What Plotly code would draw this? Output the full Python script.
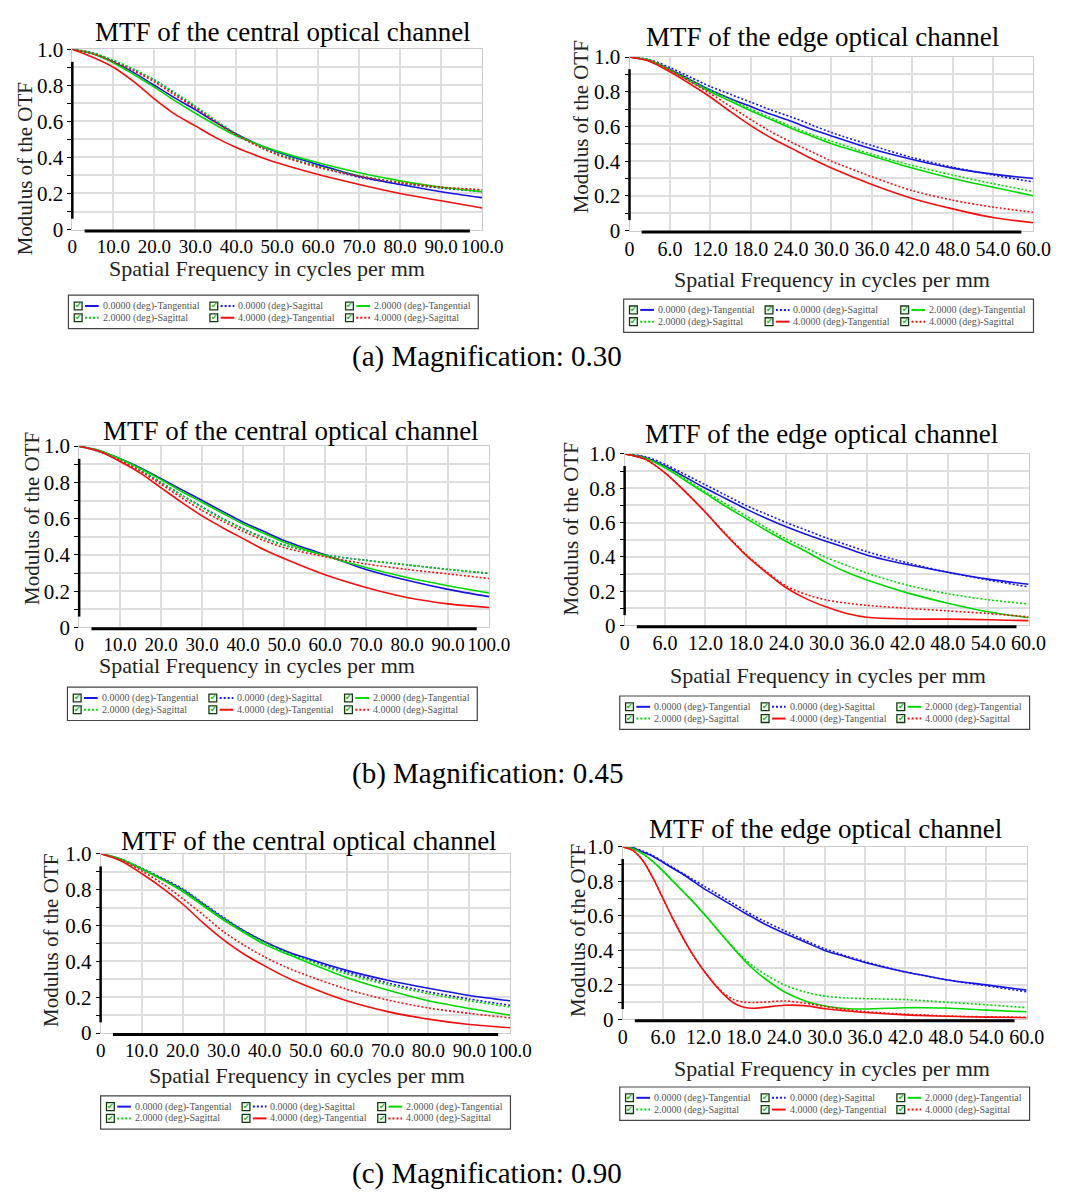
import plotly.graph_objects as go

W, H = 1074, 1198

# ---------------- data ----------------
series_names = ["0.0000 (deg)-Tangential", "0.0000 (deg)-Sagittal", "2.0000 (deg)-Tangential",
                "2.0000 (deg)-Sagittal", "4.0000 (deg)-Tangential", "4.0000 (deg)-Sagittal"]

central_ticks = [0, 10, 20, 30, 40, 50, 60, 70, 80, 90, 100]
central_ticktext = ["0", "10.0", "20.0", "30.0", "40.0", "50.0", "60.0", "70.0", "80.0", "90.0", "100.0"]
edge_ticks = [0, 6, 12, 18, 24, 30, 36, 42, 48, 54, 60]
edge_ticktext = ["0", "6.0", "12.0", "18.0", "24.0", "30.0", "36.0", "42.0", "48.0", "54.0", "60.0"]
y_ticks = [0, 0.1, 0.2, 0.3, 0.4, 0.5, 0.6, 0.7, 0.8, 0.9, 1.0]
y_ticktext = ["0", "", "0.2", "", "0.4", "", "0.6", "", "0.8", "", "1.0"]

titles = ["MTF of the central optical channel", "MTF of the edge optical channel"]
captions = ["(a) Magnification: 0.30", "(b) Magnification: 0.45", "(c) Magnification: 0.90"]

# central channel frequencies
freq_c = [0, 5, 10, 15, 20, 25, 30, 35, 40, 45, 50, 60, 70, 80, 90, 100]
# edge channel frequencies
freq_e = [0, 3, 6, 9, 12, 15, 18, 21, 24, 27, 30, 36, 42, 48, 54, 60]
freq_e_b = [0, 3, 6, 9, 12, 15, 18, 21, 24, 27, 30, 33, 36, 42, 48, 54, 60]
freq_e_c = [0, 1.5, 3, 4.5, 6, 7.5, 9, 10.5, 12, 13.5, 15, 16.5, 18, 19.5, 21, 24, 27, 30, 33, 36, 42, 45, 48, 54, 60]

# (a) magnification 0.30 - central
a_c_T0 = [1.0, 0.975, 0.93, 0.87, 0.80, 0.73, 0.665, 0.595, 0.53, 0.475, 0.43, 0.36, 0.295, 0.25, 0.21, 0.177]
a_c_S0 = [1.0, 0.98, 0.935, 0.885, 0.83, 0.755, 0.68, 0.60, 0.53, 0.47, 0.42, 0.35, 0.29, 0.255, 0.23, 0.21]
a_c_T2 = [1.0, 0.975, 0.925, 0.86, 0.79, 0.715, 0.645, 0.58, 0.52, 0.475, 0.435, 0.37, 0.315, 0.27, 0.235, 0.21]
a_c_S2 = [1.0, 0.98, 0.94, 0.89, 0.83, 0.76, 0.685, 0.605, 0.53, 0.47, 0.42, 0.35, 0.30, 0.26, 0.235, 0.22]
a_c_T4 = [1.0, 0.955, 0.90, 0.82, 0.725, 0.64, 0.575, 0.51, 0.455, 0.41, 0.37, 0.305, 0.25, 0.20, 0.16, 0.12]
a_c_S4 = [1.0, 0.975, 0.93, 0.88, 0.82, 0.745, 0.675, 0.595, 0.525, 0.465, 0.415, 0.345, 0.295, 0.26, 0.235, 0.22]

# (a) magnification 0.30 - edge
a_e_T0 = [1.0, 0.98, 0.93, 0.87, 0.81, 0.76, 0.715, 0.67, 0.63, 0.585, 0.545, 0.47, 0.41, 0.36, 0.325, 0.30]
a_e_S0 = [1.0, 0.985, 0.94, 0.885, 0.83, 0.785, 0.74, 0.695, 0.655, 0.61, 0.565, 0.49, 0.42, 0.365, 0.32, 0.28]
a_e_T2 = [1.0, 0.98, 0.925, 0.86, 0.80, 0.745, 0.69, 0.64, 0.59, 0.545, 0.50, 0.43, 0.36, 0.30, 0.25, 0.20]
a_e_S2 = [1.0, 0.985, 0.93, 0.87, 0.81, 0.755, 0.70, 0.65, 0.60, 0.555, 0.515, 0.44, 0.375, 0.32, 0.27, 0.225]
a_e_T4 = [1.0, 0.975, 0.915, 0.845, 0.77, 0.685, 0.605, 0.535, 0.475, 0.415, 0.36, 0.265, 0.185, 0.125, 0.075, 0.045]
a_e_S4 = [1.0, 0.98, 0.925, 0.86, 0.79, 0.715, 0.64, 0.57, 0.51, 0.455, 0.40, 0.31, 0.23, 0.175, 0.135, 0.105]

# (b) magnification 0.45 - central
b_c_T0 = [1.0, 0.975, 0.93, 0.88, 0.82, 0.76, 0.70, 0.64, 0.58, 0.53, 0.48, 0.40, 0.32, 0.26, 0.21, 0.17]
b_c_S0 = [1.0, 0.97, 0.925, 0.865, 0.80, 0.73, 0.665, 0.60, 0.545, 0.495, 0.455, 0.40, 0.37, 0.345, 0.32, 0.298]
b_c_T2 = [1.0, 0.975, 0.93, 0.875, 0.815, 0.75, 0.69, 0.63, 0.57, 0.52, 0.47, 0.395, 0.33, 0.275, 0.23, 0.19]
b_c_S2 = [1.0, 0.97, 0.925, 0.865, 0.80, 0.73, 0.662, 0.598, 0.542, 0.493, 0.453, 0.40, 0.37, 0.345, 0.32, 0.30]
b_c_T4 = [1.0, 0.97, 0.915, 0.85, 0.77, 0.69, 0.615, 0.55, 0.49, 0.43, 0.38, 0.29, 0.22, 0.165, 0.13, 0.11]
b_c_S4 = [1.0, 0.97, 0.92, 0.86, 0.79, 0.715, 0.645, 0.585, 0.53, 0.48, 0.44, 0.39, 0.35, 0.32, 0.295, 0.27]

# (b) magnification 0.45 - edge
b_e_T0 = [1.0, 0.98, 0.93, 0.865, 0.80, 0.74, 0.68, 0.625, 0.575, 0.53, 0.49, 0.45, 0.41, 0.355, 0.31, 0.27, 0.24]
b_e_S0 = [1.0, 0.985, 0.94, 0.88, 0.82, 0.76, 0.70, 0.65, 0.60, 0.555, 0.51, 0.47, 0.43, 0.365, 0.31, 0.265, 0.225]
b_e_T2 = [1.0, 0.975, 0.92, 0.845, 0.77, 0.695, 0.625, 0.555, 0.49, 0.43, 0.365, 0.31, 0.265, 0.19, 0.13, 0.08, 0.045]
b_e_S2 = [1.0, 0.978, 0.925, 0.855, 0.78, 0.71, 0.64, 0.57, 0.505, 0.45, 0.395, 0.35, 0.305, 0.235, 0.185, 0.15, 0.125]
b_e_T4 = [1.0, 0.97, 0.89, 0.78, 0.66, 0.53, 0.41, 0.31, 0.22, 0.155, 0.107, 0.07, 0.048, 0.038, 0.037, 0.033, 0.028]
b_e_S4 = [1.0, 0.97, 0.89, 0.78, 0.66, 0.535, 0.415, 0.315, 0.23, 0.18, 0.148, 0.13, 0.117, 0.10, 0.085, 0.07, 0.05]

# (c) magnification 0.90 - central
c_c_T0 = [1.0, 0.97, 0.915, 0.86, 0.80, 0.72, 0.64, 0.57, 0.51, 0.46, 0.42, 0.35, 0.295, 0.25, 0.21, 0.18]
c_c_S0 = [1.0, 0.97, 0.92, 0.865, 0.805, 0.725, 0.645, 0.57, 0.51, 0.455, 0.415, 0.34, 0.28, 0.23, 0.19, 0.155]
c_c_T2 = [1.0, 0.97, 0.915, 0.855, 0.79, 0.71, 0.63, 0.56, 0.495, 0.445, 0.40, 0.31, 0.24, 0.18, 0.137, 0.10]
c_c_S2 = [1.0, 0.97, 0.92, 0.86, 0.80, 0.72, 0.64, 0.565, 0.505, 0.45, 0.41, 0.33, 0.27, 0.22, 0.18, 0.145]
c_c_T4 = [1.0, 0.96, 0.89, 0.81, 0.72, 0.615, 0.52, 0.44, 0.375, 0.315, 0.265, 0.18, 0.12, 0.078, 0.048, 0.03]
c_c_S4 = [1.0, 0.965, 0.905, 0.835, 0.75, 0.66, 0.565, 0.49, 0.425, 0.37, 0.325, 0.245, 0.185, 0.14, 0.11, 0.085]

# (c) magnification 0.90 - edge
c_e_T0 = [1.0, 0.995, 0.97, 0.945, 0.91, 0.875, 0.84, 0.80, 0.76, 0.725, 0.69, 0.655, 0.62, 0.587, 0.555,
          0.50, 0.45, 0.40, 0.365, 0.33, 0.275, 0.253, 0.23, 0.20, 0.17]
c_e_S0 = [1.0, 0.995, 0.975, 0.95, 0.915, 0.88, 0.845, 0.81, 0.775, 0.74, 0.705, 0.67, 0.635, 0.60, 0.57,
          0.515, 0.46, 0.41, 0.37, 0.335, 0.275, 0.252, 0.23, 0.195, 0.16]
c_e_T2 = [1.0, 0.99, 0.96, 0.915, 0.86, 0.80, 0.74, 0.68, 0.615, 0.547, 0.478, 0.41, 0.345, 0.288, 0.24,
          0.16, 0.108, 0.078, 0.063, 0.06, 0.068, 0.068, 0.066, 0.054, 0.044]
c_e_S2 = [1.0, 0.99, 0.96, 0.915, 0.86, 0.80, 0.74, 0.68, 0.615, 0.547, 0.48, 0.415, 0.355, 0.305, 0.265,
          0.20, 0.16, 0.135, 0.125, 0.12, 0.115, 0.108, 0.10, 0.085, 0.068]
c_e_T4 = [1.0, 0.98, 0.92, 0.82, 0.70, 0.58, 0.47, 0.37, 0.285, 0.21, 0.145, 0.095, 0.07, 0.065, 0.07,
          0.082, 0.08, 0.062, 0.05, 0.04, 0.026, 0.022, 0.018, 0.013, 0.01]
c_e_S4 = [1.0, 0.98, 0.92, 0.82, 0.70, 0.58, 0.47, 0.37, 0.285, 0.212, 0.152, 0.115, 0.10, 0.098, 0.10,
          0.107, 0.095, 0.075, 0.058, 0.045, 0.03, 0.025, 0.02, 0.015, 0.012]

# ---------------- styling ----------------
FONT = "Liberation Serif, Times New Roman, serif"
colors = ["#1616e0", "#1616e0", "#00d800", "#00d800", "#f01010", "#f01010"]
dashes = ["solid", "2px,2px", "solid", "2px,2px", "solid", "2px,2px"]
GRID = "#dedede"

# panel geometry in pixels: plot area (left, right, top, bottom)
panels = [
    dict(freq=freq_c, ys=[a_c_T0, a_c_S0, a_c_T2, a_c_S2, a_c_T4, a_c_S4], xmax=100, kind=0,
         box=(69, 489, 38, 222), title=(285, 20), xt=(268, 262), yt=(20, 160), leg=(65, 289)),
    dict(freq=freq_e, ys=[a_e_T0, a_e_S0, a_e_T2, a_e_S2, a_e_T4, a_e_S4], xmax=60, kind=1,
         box=(640, 1054, 46, 223), title=(838, 26), xt=(848, 273), yt=(590, 117), leg=(634, 293)),
    dict(freq=freq_c, ys=[b_c_T0, b_c_S0, b_c_T2, b_c_S2, b_c_T4, b_c_S4], xmax=100, kind=0,
         box=(76, 496, 443, 628), title=(293, 428), xt=(258, 667), yt=(27, 517), leg=(64, 689)),
    dict(freq=freq_e_b, ys=[b_e_T0, b_e_S0, b_e_T2, b_e_S2, b_e_T4, b_e_S4], xmax=60, kind=1,
         box=(635, 1049, 451, 626), title=(837, 431), xt=(843, 677), yt=(580, 527), leg=(630, 698)),
    dict(freq=freq_c, ys=[c_c_T0, c_c_S0, c_c_T2, c_c_S2, c_c_T4, c_c_S4], xmax=100, kind=0,
         box=(98, 518, 859, 1042), title=(312, 846), xt=(310, 1085), yt=(47, 947), leg=(98, 1106)),
    dict(freq=freq_e_c, ys=[c_e_T0, c_e_S0, c_e_T2, c_e_S2, c_e_T4, c_e_S4], xmax=60, kind=1,
         box=(633, 1047, 852, 1028), title=(841, 834), xt=(848, 1078), yt=(587, 937), leg=(630, 1097)),
]
caption_pos = [(494, 352), (494, 777), (494, 1185)]


def fx(px):
    return px / W


def fy(py):
    return 1 - py / H


fig = go.Figure()
layout = dict(width=W, height=H, margin=dict(l=0, r=0, t=0, b=0),
              paper_bgcolor="white", plot_bgcolor="white", showlegend=False,
              font=dict(family=FONT, color="black"))
shapes = []
annotations = []

for i, p in enumerate(panels):
    n = i + 1
    xa = "x" if n == 1 else f"x{n}"
    ya = "y" if n == 1 else f"y{n}"
    l, r, t, b = p["box"]
    for k in range(6):
        fig.add_trace(go.Scatter(x=p["freq"], y=p["ys"][k], mode="lines", name=series_names[k],
                                 line=dict(color=colors[k], width=1.6, dash=dashes[k], shape="spline",
                                           smoothing=0.8),
                                 xaxis=xa, yaxis=ya, hoverinfo="skip"))
    tv = central_ticks if p["kind"] == 0 else edge_ticks
    tt = central_ticktext if p["kind"] == 0 else edge_ticktext
    xfs = 19 if p["kind"] == 0 else 20
    layout["xaxis" if n == 1 else f"xaxis{n}"] = dict(
        domain=[fx(l), fx(r)], anchor=ya, range=[0, p["xmax"]], tickmode="array",
        tickvals=tv, ticktext=tt, tickangle=0, showgrid=True, gridcolor=GRID, gridwidth=1.5,
        showline=True, linecolor="#cccccc", linewidth=1, mirror=True, zeroline=False,
        ticks="", tickfont=dict(family=FONT, size=xfs, color="black"), fixedrange=True)
    layout["yaxis" if n == 1 else f"yaxis{n}"] = dict(
        domain=[fy(b), fy(t)], anchor=xa, range=[0, 1], tickmode="array",
        tickvals=y_ticks, ticktext=y_ticktext, showgrid=True, gridcolor=GRID, gridwidth=1.5,
        showline=True, linecolor="#cccccc", linewidth=1, mirror=True, zeroline=False,
        ticks="outside", ticklen=4, tickcolor="black", tickwidth=1,
        tickfont=dict(family=FONT, size=21, color="black"), fixedrange=True)

    # partial black axis strokes (Zemax style)
    shapes.append(dict(type="line", xref=f"{xa} domain", yref=f"{ya} domain", x0=0, x1=0,
                       y0=0.06, y1=0.93, line=dict(color="black", width=2.5)))
    shapes.append(dict(type="line", xref=f"{xa} domain", yref=f"{ya} domain", x0=0.03, x1=0.97,
                       y0=-0.008, y1=-0.008, line=dict(color="black", width=3)))

    # titles
    tx, ty = p["title"]
    annotations.append(dict(text=titles[p["kind"]], x=fx(tx), y=fy(ty), xref="paper", yref="paper",
                            showarrow=False, xanchor="center", yanchor="middle",
                            font=dict(family=FONT, size=27, color="black")))
    ax_, ay_ = p["xt"]
    annotations.append(dict(text="Spatial Frequency in cycles per mm", x=fx(ax_), y=fy(ay_),
                            xref="paper", yref="paper", showarrow=False, xanchor="center",
                            yanchor="middle", font=dict(family=FONT, size=22, color="#222222")))
    yx, yy = p["yt"]
    annotations.append(dict(text="Modulus of the OTF", x=fx(yx), y=fy(yy), xref="paper", yref="paper",
                            showarrow=False, xanchor="center", yanchor="middle", textangle=-90,
                            font=dict(family=FONT, size=21, color="#222222")))

    # legend box
    lx, ly = p["leg"]
    lw, lh = 420, 34
    shapes.append(dict(type="rect", xref="paper", yref="paper", x0=fx(lx), x1=fx(lx + lw),
                       y0=fy(ly + lh), y1=fy(ly), line=dict(color="#444444", width=1.2),
                       fillcolor="white"))
    for k in range(6):
        col, row = k % 3, k // 3
        ex = lx + 6 + col * 139
        ey = ly + 11 + row * 12
        shapes.append(dict(type="rect", xref="paper", yref="paper", x0=fx(ex), x1=fx(ex + 8),
                           y0=fy(ey + 4), y1=fy(ey - 4), line=dict(color="#173817", width=1.3),
                           fillcolor="#f4fff4"))
        annotations.append(dict(text="✔", x=fx(ex + 4.5), y=fy(ey), xref="paper", yref="paper",
                                showarrow=False, xanchor="center", yanchor="middle",
                                font=dict(family="DejaVu Sans", size=8, color="#1fb01f")))
        shapes.append(dict(type="line", xref="paper", yref="paper", x0=fx(ex + 11), x1=fx(ex + 25),
                           y0=fy(ey), y1=fy(ey), line=dict(color=colors[k], width=2, dash=dashes[k])))
        annotations.append(dict(text=series_names[k], x=fx(ex + 27), y=fy(ey), xref="paper", yref="paper",
                                showarrow=False, xanchor="left", yanchor="middle",
                                font=dict(family=FONT, size=10, color="#555555")))

for j, c in enumerate(captions):
    cx, cy = caption_pos[j]
    annotations.append(dict(text=c, x=fx(cx), y=fy(cy), xref="paper", yref="paper", showarrow=False,
                            xanchor="center", yanchor="middle",
                            font=dict(family=FONT, size=29, color="black")))

layout["shapes"] = shapes
layout["annotations"] = annotations
fig.update_layout(**layout)
fig.write_html("out.html")
